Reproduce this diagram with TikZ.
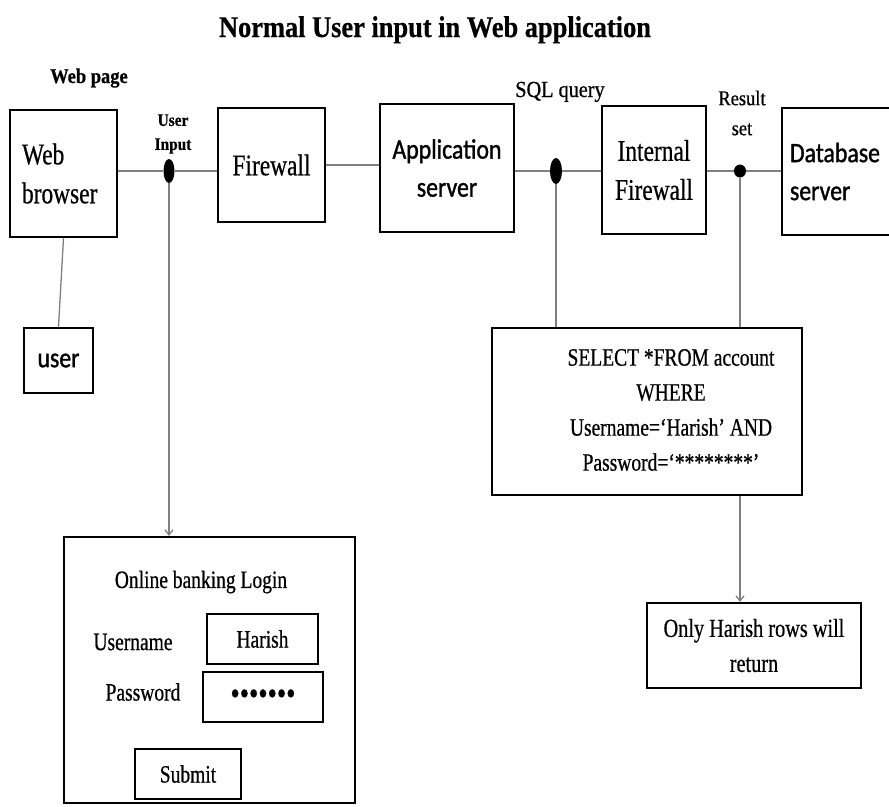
\documentclass[tikz,border=0pt]{standalone}
\usepackage{fontspec}
\setmainfont{Liberation Serif}
\newfontfamily\sercond[FakeStretch=0.78,FakeBold=0.6]{Liberation Serif}
\newfontfamily\sermid[FakeStretch=0.88,FakeBold=0.6]{Liberation Serif}
\newfontfamily\sanscond[FakeStretch=0.85,FakeBold=1.2]{Carlito}
\usetikzlibrary{arrows.meta,shapes.geometric}
\definecolor{linegray}{gray}{0.5}
\newcommand\fbig{\sercond\fontsize{30}{39}\selectfont}
\newcommand\fsansbig{\sanscond\fontsize{28}{38}\selectfont}
\newcommand\fmid{\sercond\fontsize{25}{35}\selectfont}
\newcommand\fonly{\sercond\fontsize{26}{35}\selectfont}
\newcommand\ftitle{\sermid\bfseries\fontsize{30}{36}\selectfont}
\newcommand\fwebpage{\sermid\bfseries\fontsize{21}{25}\selectfont}
\newcommand\fuserin{\sermid\bfseries\fontsize{17.5}{24}\selectfont}
\newcommand\fsqlq{\sermid\fontsize{23}{28}\selectfont}
\newcommand\fresult{\sermid\fontsize{21}{30}\selectfont}
\newcommand\fbullets{\sercond\fontsize{34}{36}\selectfont}
\tikzset{
  box/.style={draw=black, line width=2.2pt, rectangle, inner sep=0pt, align=center},
  lbl/.style={inner sep=0pt, align=center},
  conn/.style={draw=linegray, line width=1.3pt},
  arr/.style={conn, -{Straight Barb[length=5pt,width=8pt]}},
  dotn/.style={ellipse, fill=black, draw=none, inner sep=0pt},
}
\begin{document}
\begin{tikzpicture}[x=1pt,y=-1pt]
\useasboundingbox (0,0) rectangle (889,806);

% title and labels
\node[lbl, font=\ftitle, anchor=base] (title) at (435,37) {Normal User input in Web application};
\node[lbl, font=\fwebpage, anchor=base] (webpage) at (89,83) {Web page};
\node[lbl, font=\fuserin] (userinput) at (173,134) {User\\Input};
\node[lbl, font=\fsqlq, anchor=base] (sqlq) at (560,97) {SQL query};
\node[lbl, font=\fresult] (resultset) at (742,113) {Result\\set};

% top row boxes
\node[box, minimum width=107pt, minimum height=127pt, text width=83pt, inner xsep=12pt, align=left, font=\fbig] (browser) at (63.5,173.5) {Web\\browser};
\node[box, minimum width=107pt, minimum height=114pt, font=\fbig] (firewall) at (271.5,165) {Firewall};
\node[box, minimum width=134pt, minimum height=128pt, font=\fsansbig] (app) at (447,168) {Application\\server};
\node[box, minimum width=104pt, minimum height=128pt, font=\fbig] (ifw) at (654,170) {Internal\\Firewall};
\node[box, minimum width=111pt, minimum height=127pt, text width=95pt, inner xsep=8pt, align=left, font=\fsansbig] (db) at (837.5,171.5) {Database\\server};

% user
\node[box, minimum width=69pt, minimum height=65pt, font=\fsansbig] (user) at (58.5,360.5) {user};

% dots
\node[dotn, minimum width=11pt, minimum height=24pt] (d1) at (169,171) {};
\node[dotn, minimum width=12pt, minimum height=26pt] (d2) at (556,171) {};
\node[dotn, minimum width=12pt, minimum height=13pt] (d3) at (740,171) {};

% SQL box
\node[box, minimum width=310pt, minimum height=167pt] (sql) at (647,411.5) {};
\node[lbl, font=\fmid] (sqltext) at (671,410) {SELECT *FROM account\\WHERE\\Username=‘Harish’ AND\\Password=‘********’};

% result box
\node[box, minimum width=214pt, minimum height=85pt, font=\fonly] (only) at (754,645.5) {Only Harish rows will\\return};

% login form
\node[box, minimum width=291pt, minimum height=266pt] (login) at (209.5,670) {};
\node[lbl, font=\fmid] (ltitle) at (201,582) {Online banking Login};
\node[lbl, font=\fmid] (ulabel) at (133,642) {Username};
\node[box, minimum width=111pt, minimum height=50pt, font=\fmid] (harish) at (262.5,639) {Harish};
\node[lbl, font=\fmid] (plabel) at (143,692) {Password};
\node[box, minimum width=120pt, minimum height=50pt, font=\fbullets] (pwbox) at (263,697) {•••••••};
\node[box, minimum width=106pt, minimum height=50pt, font=\fmid] (submit) at (188,774) {Submit};

% connectors
\draw[conn] (d1 -| browser.east) -- (d1);
\draw[conn] (d1) -- (d1 -| firewall.west);
\draw[conn] (firewall.east) -- (firewall.east -| app.west);
\draw[conn] (d2 -| app.east) -- (d2);
\draw[conn] (d2) -- (d2 -| ifw.west);
\draw[conn] (d3 -| ifw.east) -- (d3);
\draw[conn] (d3) -- (d3 -| db.west);
\draw[conn] (browser.south) -- (user.north);
\draw[arr] (d1) -- (d1 |- login.north);
\draw[conn] (d2) -- (d2 |- sql.north);
\draw[conn] (d3) -- (d3 |- sql.north);
\draw[arr] (d3 |- sql.south) -- (d3 |- only.north);
\end{tikzpicture}
\end{document}
